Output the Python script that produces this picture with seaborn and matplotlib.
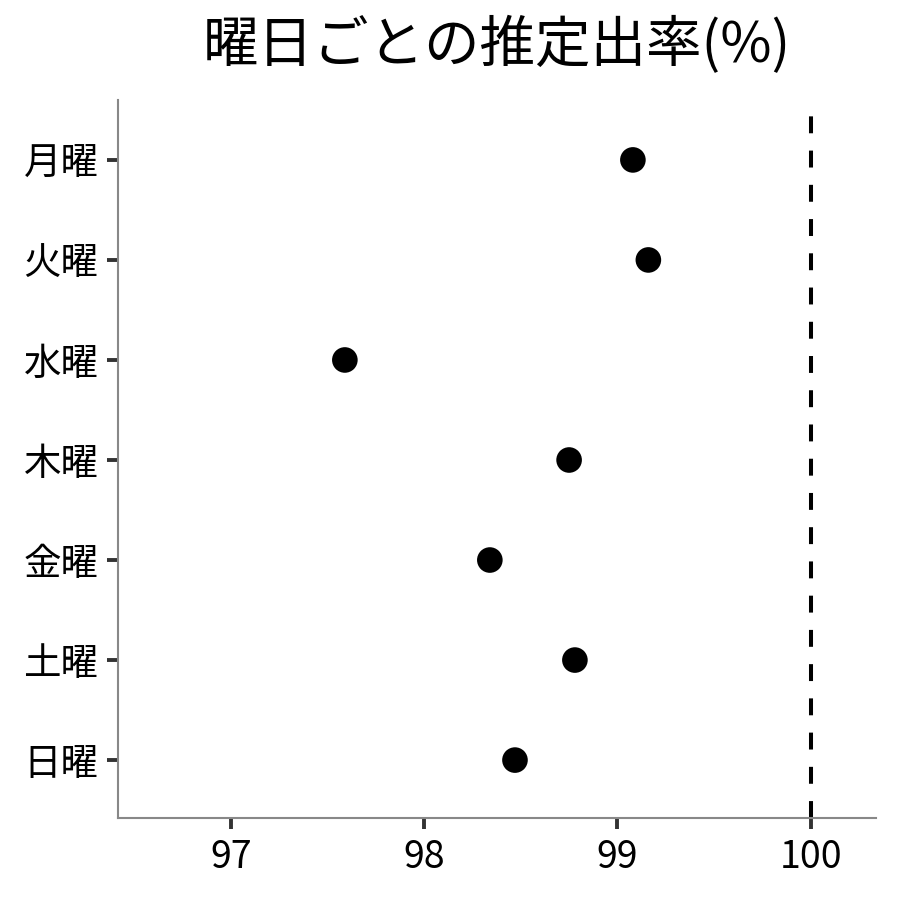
import matplotlib
matplotlib.use("Agg")
import matplotlib.pyplot as plt
import seaborn as sns
import pandas as pd

days = ['月曜', '火曜', '水曜', '木曜', '金曜', '土曜', '日曜']
rates = [99.08, 99.16, 97.59, 98.75, 98.34, 98.78, 98.47]
x_ticks = [97, 98, 99, 100]

sns.set_theme(style='ticks')
plt.rcParams['font.family'] = ['Noto Sans CJK JP', 'DejaVu Sans']
plt.rcParams['text.color'] = 'black'
plt.rcParams['xtick.labelcolor'] = 'black'
plt.rcParams['ytick.labelcolor'] = 'black'

df = pd.DataFrame({'曜日': days, '出率': rates})

fig = plt.figure(figsize=(9, 9), dpi=100, facecolor='w')
ax = fig.add_axes([0.131, 0.091, 0.842, 0.798])

sns.scatterplot(data=df, x='出率', y='曜日', color='black', s=340,
                edgecolor='none', ax=ax, zorder=3)
ax.axvline(100, color='black', lw=2.9, linestyle=(0, (4.2, 4.3)))

ax.set_xlim(96.416, 100.336)
ax.set_ylim(6.58, -0.6)
ax.set_xticks(x_ticks)
ax.set_xticklabels([str(t) for t in x_ticks])
ax.set_xlabel('')
ax.set_ylabel('')
ax.tick_params(labelsize=27, length=8, width=2.8, color='#333333', pad=6)
for side in ['top', 'right']:
    ax.spines[side].set_visible(False)
for side in ['left', 'bottom']:
    ax.spines[side].set_color('#888888')
    ax.spines[side].set_linewidth(1.5)

ax.set_title('曜日ごとの推定出率(%)', fontsize=40, pad=27, color='black')

fig.savefig('out.png', dpi=100)
